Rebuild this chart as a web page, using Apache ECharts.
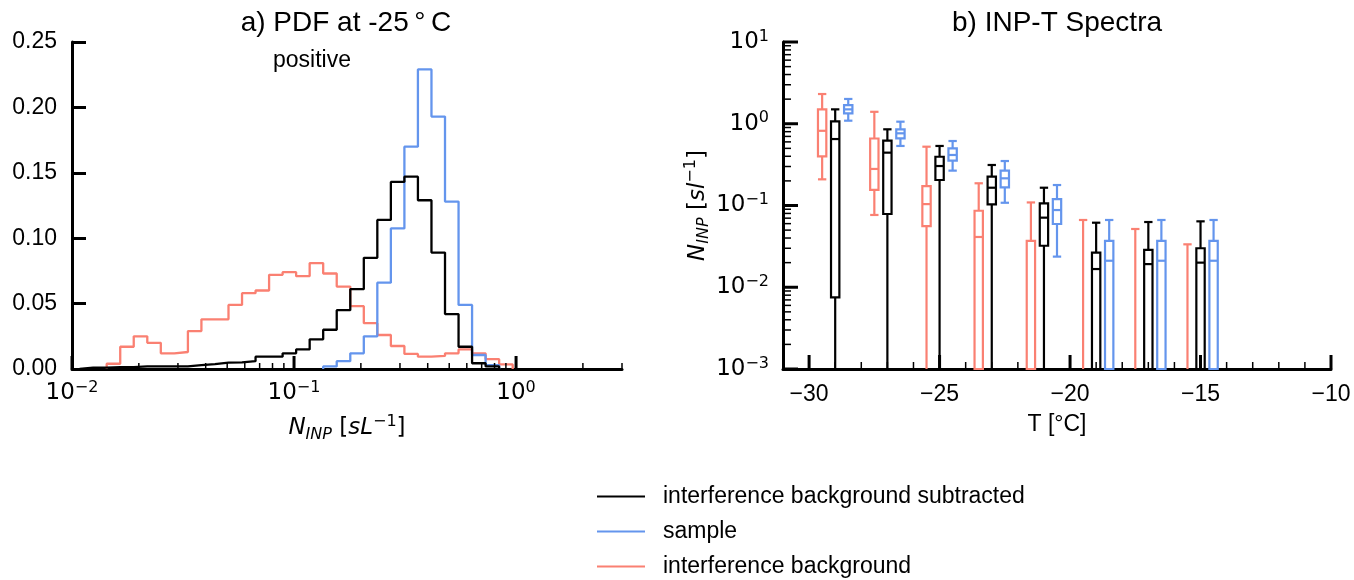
<!DOCTYPE html>
<html><head><meta charset="utf-8">
<script src="https://cdn.jsdelivr.net/npm/echarts@6/dist/echarts.min.js"></script>
<style>html,body{margin:0;padding:0;background:#fff}#c{width:1354px;height:580px}</style>
</head><body><div id="c"></div>
<script>
// ---------- Panel a) histogram (log-spaced bins) ----------
const binEdges = [0.01082, 0.01245, 0.01433, 0.01649, 0.01897, 0.02183, 0.02512, 0.02891,
  0.03327, 0.03827, 0.04404, 0.05068, 0.05832, 0.06710, 0.07721, 0.08884, 0.1022, 0.1176,
  0.1353, 0.1557, 0.1792, 0.2062, 0.2372, 0.2730, 0.3141, 0.3614, 0.4159, 0.4786, 0.5508,
  0.6337, 0.7292, 0.8391, 0.9656];
const pdfSubtracted = [0.001, 0.001, 0.0015, 0.0015, 0.002, 0.002, 0.002, 0.002, 0.003, 0.0038,
  0.0048, 0.005, 0.006, 0.0094, 0.0094, 0.012, 0.015, 0.0227, 0.030, 0.045, 0.061, 0.085,
  0.114, 0.143, 0.147, 0.129, 0.089, 0.042, 0.017, 0.0044, 0.002, 0];
const pdfSample = [0, 0, 0, 0, 0, 0, 0, 0, 0, 0, 0, 0, 0, 0, 0, 0, 0, 0, 0.002, 0.006, 0.012,
  0.025, 0.066, 0.1075, 0.170, 0.229, 0.193, 0.128, 0.049, 0.0107, 0.003, 0];
const pdfBackground = [0, 0, 0.004, 0.017, 0.025, 0.020, 0.012, 0.013, 0.029, 0.038, 0.038,
  0.049, 0.058, 0.060, 0.072, 0.074, 0.071, 0.081, 0.073, 0.063, 0.048, 0.035, 0.026, 0.0176,
  0.0115, 0.0094, 0.010, 0.012, 0.015, 0.012, 0.0075, 0.0035];
const pdfXMajorTicks = [0.01, 0.1, 1];
const pdfXMinorTicks = [0.02, 0.03, 0.04, 0.05, 0.06, 0.07, 0.08, 0.09,
  0.2, 0.3, 0.4, 0.5, 0.6, 0.7, 0.8, 0.9, 2, 3];

// ---------- Panel b) INP-T spectra boxplots: [low, q1, median, q3, high] ----------
const temps = [-29, -27, -25, -23, -21, -19, -17, -15];
const boxBackground = [
  [0.209, 0.40, 0.82, 1.50, 2.31], [0.0766, 0.155, 0.28, 0.66, 1.40],
  [0, 0.056, 0.104, 0.173, 0.524], [0, 0, 0.0412, 0.0863, 0.187],
  [0, 0, 0, 0.037, 0.109], [0, 0, 0, 0, 0.0665], [0, 0, 0, 0, 0.0516], [0, 0, 0, 0, 0.0335]];
const boxSubtracted = [
  [0, 0.0075, 0.65, 1.07, 1.50], [0, 0.0787, 0.443, 0.62, 0.855],
  [0, 0.205, 0.304, 0.395, 0.535], [0, 0.1035, 0.165, 0.225, 0.313],
  [0, 0.0322, 0.071, 0.106, 0.165], [0, 0, 0.0167, 0.0265, 0.0616],
  [0, 0, 0.0192, 0.0286, 0.0628], [0, 0, 0.020, 0.030, 0.064]];
const boxSample = [
  [1.09, 1.34, 1.50, 1.69, 2.01], [0.535, 0.664, 0.764, 0.855, 1.06],
  [0.267, 0.353, 0.415, 0.501, 0.615], [0.108, 0.167, 0.215, 0.267, 0.35],
  [0.0237, 0.0594, 0.088, 0.120, 0.178], [0, 0, 0.0211, 0.037, 0.0665],
  [0, 0, 0.0211, 0.037, 0.0665], [0, 0, 0.0211, 0.037, 0.0665]];
const specXMajorTicks = [-30, -25, -20, -15, -10];
const specXMinorTicks = [-29, -28, -27, -26, -24, -23, -22, -21, -19, -18, -17, -16, -14, -13, -12, -11];
const specYMajorTicks = [0.001, 0.01, 0.1, 1, 10];
const specYMinorTicks = [0.002, 0.003, 0.004, 0.005, 0.006, 0.007, 0.008, 0.009,
  0.02, 0.03, 0.04, 0.05, 0.06, 0.07, 0.08, 0.09, 0.2, 0.3, 0.4, 0.5, 0.6, 0.7, 0.8, 0.9,
  2, 3, 4, 5, 6, 7, 8, 9];

const NAME_SUB = 'interference background subtracted';
const NAME_SAMPLE = 'sample';
const NAME_BG = 'interference background';
const C_BLACK = '#000000', C_BLUE = '#6495ED', C_RED = '#FA8072';
const SPEC_XMIN = -31, SPEC_XMAX = -10, SPEC_YMIN = 0.001, SPEC_YMAX = 10;

function stepData(vals) {
  let i = 0; while (i < vals.length && !(vals[i] > 0)) i++;
  let j = vals.length - 1; while (j >= 0 && !(vals[j] > 0)) j--;
  const pts = [[binEdges[i], 0]];
  for (let k = i; k <= j; k++) pts.push([binEdges[k], vals[k]]);
  pts.push([binEdges[j + 1], 0]);
  return pts;
}
function lineSeries(name, color, vals) {
  return { name, type: 'line', xAxisIndex: 0, yAxisIndex: 0, step: 'end', data: stepData(vals),
    showSymbol: false, symbol: 'none', color, lineStyle: { color, width: 2.3 }, z: 3 };
}
function tickSeries(xi, yi, data, horizontal, len, width) {
  return { type: 'custom', xAxisIndex: xi, yAxisIndex: yi, data, silent: true, z: 10,
    encode: { x: 0, y: 1 },
    renderItem: (p, api) => {
      const pt = api.coord([api.value(0), api.value(1)]);
      return { type: 'line', shape: horizontal ?
        { x1: pt[0], y1: pt[1], x2: pt[0] + len, y2: pt[1] } :
        { x1: pt[0], y1: pt[1], x2: pt[0], y2: pt[1] - len },
        style: { stroke: '#000', lineWidth: width } };
    } };
}
function boxSeries(name, color, offset, boxes) {
  const data = temps.map((t, i) => [t + offset].concat(boxes[i].map(v => Math.max(v, SPEC_YMIN))));
  const boxW = 0.32;
  return { name, type: 'custom', xAxisIndex: 1, yAxisIndex: 1, data, z: 4, color,
    encode: { x: 0, y: [1, 2, 3, 4, 5] },
    renderItem: (p, api) => {
      const x = api.value(0);
      const lo = api.value(1), q1 = api.value(2), med = api.value(3), q3 = api.value(4), hi = api.value(5);
      const cx = api.coord([x, SPEC_YMIN])[0];
      const hw = (api.coord([x + boxW / 2, SPEC_YMIN])[0] - api.coord([x - boxW / 2, SPEC_YMIN])[0]) / 2;
      const Y = v => api.coord([x, v])[1];
      const st = { stroke: color, lineWidth: 2.2, fill: null };
      const ch = [];
      if (q1 > lo) ch.push({ type: 'line', shape: { x1: cx, y1: Y(lo), x2: cx, y2: Y(q1) }, style: st });
      if (hi > q3) ch.push({ type: 'line', shape: { x1: cx, y1: Y(q3), x2: cx, y2: Y(hi) }, style: st });
      ch.push({ type: 'line', shape: { x1: cx - hw, y1: Y(hi), x2: cx + hw, y2: Y(hi) }, style: st });
      if (lo > SPEC_YMIN) ch.push({ type: 'line', shape: { x1: cx - hw, y1: Y(lo), x2: cx + hw, y2: Y(lo) }, style: st });
      if (q3 > q1) ch.push({ type: 'rect', shape: { x: cx - hw, y: Y(q3), width: 2 * hw, height: Y(q1) - Y(q3) }, style: st });
      if (med > SPEC_YMIN) ch.push({ type: 'line', shape: { x1: cx - hw, y1: Y(med), x2: cx + hw, y2: Y(med) }, style: st });
      return { type: 'group', children: ch };
    } };
}
const powFmt = v => {
  const l = Math.log10(v), e = Math.round(l);
  if (Math.abs(l - e) > 1e-6) return '';
  return '10{s|' + (e < 0 ? '\u2212' + (-e) : e) + '}';
};
const mathLabel = { fontFamily: 'DejaVu Sans', fontSize: 23, color: '#000', lineHeight: 27,
  rich: { s: { fontFamily: 'DejaVu Sans', fontSize: 16, lineHeight: 16, verticalAlign: 'top', color: '#000' } } };
const nameRich = {
  i: { fontFamily: 'DejaVu Sans', fontStyle: 'italic', fontSize: 23, lineHeight: 29, color: '#000' },
  t: { fontFamily: 'DejaVu Sans', fontSize: 23, lineHeight: 29, color: '#000' },
  sb: { fontFamily: 'DejaVu Sans', fontStyle: 'italic', fontSize: 16, lineHeight: 16, verticalAlign: 'bottom', color: '#000' },
  sp: { fontFamily: 'DejaVu Sans', fontSize: 16, lineHeight: 16, verticalAlign: 'top', color: '#000' }
};
const axLine = { show: true, onZero: false, lineStyle: { color: '#000', width: 3 } };

const option = {
  animation: false,
  backgroundColor: '#fff',
  grid: [
    { left: 72, top: 42, width: 550, height: 327 },
    { left: 783, top: 42, width: 548, height: 327 }
  ],
  xAxis: [
    { type: 'log', logBase: 10, gridIndex: 0, min: 0.01, max: 3, axisLine: axLine,
      axisTick: { show: false }, splitLine: { show: false }, minorTick: { show: false },
      axisLabel: Object.assign({ formatter: powFmt, margin: 11 }, mathLabel),
      name: '{i|N}{sb|INP}{t| [}{i|sL}{sp|\u22121}{t|]}', nameLocation: 'middle', nameGap: 45,
      nameTextStyle: { rich: nameRich } },
    { type: 'value', gridIndex: 1, min: SPEC_XMIN, max: SPEC_XMAX, interval: 1, axisLine: axLine,
      axisTick: { show: false }, splitLine: { show: false },
      axisLabel: { formatter: v => (Math.round(v) % 5 === 0 ? (v < 0 ? '\u2212' + (-v) : '' + v) : ''),
        fontFamily: 'Liberation Sans', fontSize: 23, color: '#000', margin: 14 },
      name: 'T [\u00b0C]', nameLocation: 'middle', nameGap: 44,
      nameTextStyle: { fontFamily: 'Liberation Sans', fontSize: 23, color: '#000' } }
  ],
  yAxis: [
    { type: 'value', gridIndex: 0, min: 0, max: 0.25, interval: 0.05, axisLine: axLine,
      axisTick: { show: true, inside: true, length: 14, lineStyle: { color: '#000', width: 3 } },
      splitLine: { show: false },
      axisLabel: { formatter: v => v.toFixed(2), fontFamily: 'Liberation Sans', fontSize: 23, color: '#000', margin: 15 } },
    { type: 'log', logBase: 10, gridIndex: 1, min: SPEC_YMIN, max: SPEC_YMAX, axisLine: axLine,
      axisTick: { show: false }, splitLine: { show: false },
      axisLabel: Object.assign({ formatter: powFmt, margin: 14 }, mathLabel),
      name: '{i|N}{sb|INP}{t| [}{i|sl}{sp|\u22121}{t|]}', nameLocation: 'middle', nameRotate: 90, nameGap: 62,
      nameTextStyle: { rich: nameRich } }
  ],
  legend: {
    orient: 'vertical', left: 597, top: 485, height: 95, padding: 0, itemWidth: 48, itemHeight: 2, itemGap: 12, icon: 'rect',
    selectedMode: false,
    textStyle: { fontFamily: 'Liberation Sans', fontSize: 23, color: '#000', lineHeight: 23, padding: [0, 0, 0, 13] },
    data: [NAME_SUB, NAME_SAMPLE, NAME_BG]
  },
  graphic: [
    { type: 'text', x: 346, y: 23, style: { text: 'a) PDF at -25\u2009\u00b0\u2009C', fontFamily: 'Liberation Sans', fontSize: 28,
      fill: '#000', textAlign: 'center', textVerticalAlign: 'middle', align: 'center', verticalAlign: 'middle' } },
    { type: 'text', x: 312, y: 61, style: { text: 'positive', fontFamily: 'Liberation Sans', fontSize: 23,
      fill: '#000', textAlign: 'center', textVerticalAlign: 'middle', align: 'center', verticalAlign: 'middle' } },
    { type: 'text', x: 1057, y: 23, style: { text: 'b) INP-T Spectra', fontFamily: 'Liberation Sans', fontSize: 28,
      fill: '#000', textAlign: 'center', textVerticalAlign: 'middle', align: 'center', verticalAlign: 'middle' } }
  ],
  series: [
    lineSeries(NAME_BG, C_RED, pdfBackground),
    lineSeries(NAME_SAMPLE, C_BLUE, pdfSample),
    lineSeries(NAME_SUB, C_BLACK, pdfSubtracted),
    tickSeries(0, 0, pdfXMajorTicks.map(v => [v, 0]), false, 13, 3),
    tickSeries(0, 0, pdfXMinorTicks.map(v => [v, 0]), false, 6, 1.5),
    boxSeries(NAME_BG, C_RED, -0.5, boxBackground),
    boxSeries(NAME_SUB, C_BLACK, 0, boxSubtracted),
    boxSeries(NAME_SAMPLE, C_BLUE, 0.5, boxSample),
    tickSeries(1, 1, specXMajorTicks.map(v => [v, SPEC_YMIN]), false, 14, 3),
    tickSeries(1, 1, specXMinorTicks.map(v => [v, SPEC_YMIN]), false, 7, 1.5),
    tickSeries(1, 1, specYMajorTicks.map(v => [SPEC_XMIN, v]), true, 15, 3),
    tickSeries(1, 1, specYMinorTicks.map(v => [SPEC_XMIN, v]), true, 8, 1.5)
  ]
};
const chart = echarts.init(document.getElementById('c'), null, { renderer: 'canvas' });
chart.setOption(option);
</script></body></html>
